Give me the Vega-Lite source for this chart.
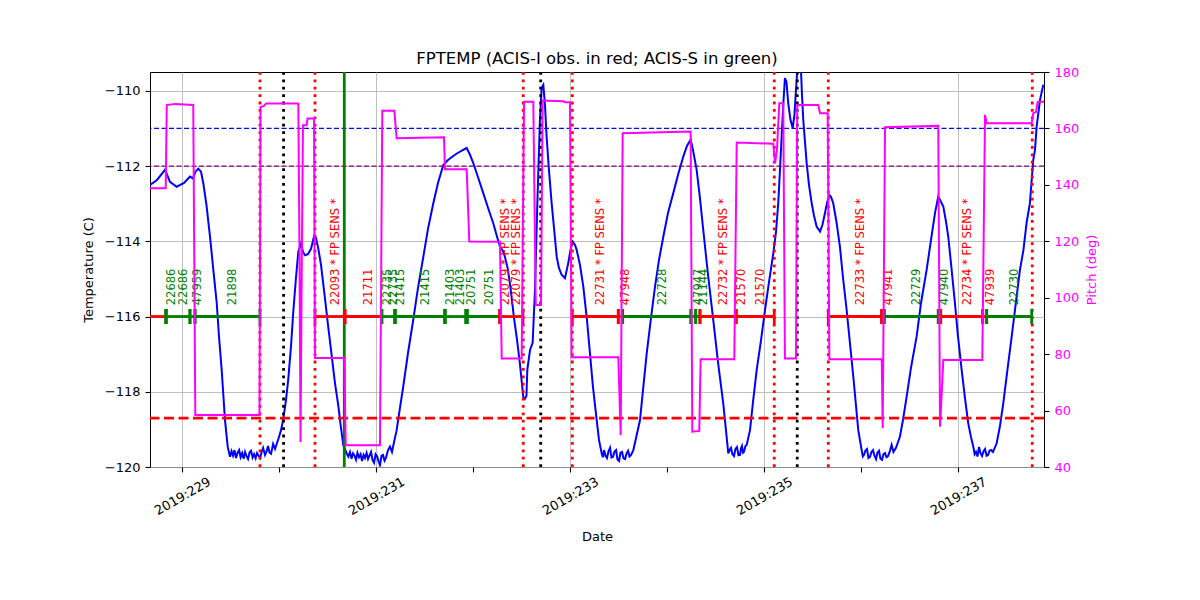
{
  "$schema": "https://vega.github.io/schema/vega-lite/v6.json",
  "width": 894,
  "height": 395,
  "autosize": {"type": "none"},
  "padding": {"left": 150, "top": 72, "right": 156, "bottom": 133},
  "background": "white",
  "config": {
    "font": "DejaVu Sans",
    "view": {"stroke": "black", "strokeWidth": 1},
    "axis": {
      "labelFont": "DejaVu Sans", "titleFont": "DejaVu Sans",
      "labelFontSize": 13, "titleFontSize": 13, "titleFontWeight": "normal",
      "labelColor": "black", "titleColor": "black", "tickColor": "black",
      "domain": false, "tickSize": 5, "tickWidth": 1.1,
      "gridColor": "#b0b0b0", "gridWidth": 0.8,
      "labelOverlap": false, "labelFlush": false, "labelBound": false
    },
    "title": {"font": "DejaVu Sans", "fontSize": 16.5, "fontWeight": "normal", "color": "black"}
  },
  "title": {"text": "FPTEMP (ACIS-I obs. in red; ACIS-S in green)", "anchor": "middle", "offset": -17, "baseline": "bottom"},
  "datasets": {
    "temp": [
      {"day": 228.667, "temp": -112.50}, {"day": 228.739, "temp": -112.37}, {"day": 228.822, "temp": -112.10},
      {"day": 228.873, "temp": -112.42}, {"day": 228.942, "temp": -112.55}, {"day": 229.018, "temp": -112.45},
      {"day": 229.079, "temp": -112.28}, {"day": 229.110, "temp": -112.33}, {"day": 229.136, "temp": -112.15},
      {"day": 229.165, "temp": -112.07}, {"day": 229.193, "temp": -112.15}, {"day": 229.216, "temp": -112.45},
      {"day": 229.249, "temp": -113.03}, {"day": 229.286, "temp": -113.88}, {"day": 229.320, "temp": -114.76},
      {"day": 229.355, "temp": -115.64}, {"day": 229.378, "temp": -116.52}, {"day": 229.406, "temp": -117.42},
      {"day": 229.440, "temp": -118.75}, {"day": 229.468, "temp": -119.46}, {"day": 229.492, "temp": -119.73},
      {"day": 229.508, "temp": -119.58}, {"day": 229.523, "temp": -119.70}, {"day": 229.538, "temp": -119.55},
      {"day": 229.554, "temp": -119.76}, {"day": 229.570, "temp": -119.62}, {"day": 229.586, "temp": -119.55},
      {"day": 229.601, "temp": -119.74}, {"day": 229.617, "temp": -119.63}, {"day": 229.632, "temp": -119.78},
      {"day": 229.647, "temp": -119.60}, {"day": 229.663, "temp": -119.72}, {"day": 229.678, "temp": -119.79},
      {"day": 229.694, "temp": -119.61}, {"day": 229.709, "temp": -119.57}, {"day": 229.725, "temp": -119.75},
      {"day": 229.740, "temp": -119.66}, {"day": 229.756, "temp": -119.77}, {"day": 229.771, "temp": -119.63},
      {"day": 229.787, "temp": -119.70}, {"day": 229.802, "temp": -119.76}, {"day": 229.818, "temp": -119.60},
      {"day": 229.833, "temp": -119.49}, {"day": 229.853, "temp": -119.68}, {"day": 229.870, "temp": -119.58},
      {"day": 229.884, "temp": -119.44}, {"day": 229.900, "temp": -119.62}, {"day": 229.915, "temp": -119.65},
      {"day": 229.936, "temp": -119.39}, {"day": 229.956, "temp": -119.52}, {"day": 229.991, "temp": -119.25},
      {"day": 230.018, "temp": -119.02}, {"day": 230.041, "temp": -118.72}, {"day": 230.069, "temp": -118.22},
      {"day": 230.093, "temp": -117.65}, {"day": 230.121, "temp": -116.78}, {"day": 230.144, "temp": -115.88},
      {"day": 230.172, "temp": -114.97}, {"day": 230.196, "temp": -114.28}, {"day": 230.224, "temp": -114.06},
      {"day": 230.244, "temp": -114.28}, {"day": 230.265, "temp": -114.37}, {"day": 230.296, "temp": -114.34},
      {"day": 230.327, "temp": -114.20}, {"day": 230.361, "temp": -113.84}, {"day": 230.378, "temp": -113.91},
      {"day": 230.402, "temp": -114.19}, {"day": 230.430, "temp": -114.63}, {"day": 230.471, "temp": -115.52},
      {"day": 230.502, "temp": -116.22}, {"day": 230.540, "temp": -117.03}, {"day": 230.574, "temp": -117.77},
      {"day": 230.608, "temp": -118.36}, {"day": 230.636, "temp": -118.96}, {"day": 230.660, "temp": -119.42},
      {"day": 230.695, "temp": -119.64}, {"day": 230.712, "temp": -119.72}, {"day": 230.729, "temp": -119.60},
      {"day": 230.745, "temp": -119.78}, {"day": 230.760, "temp": -119.64}, {"day": 230.776, "temp": -119.70},
      {"day": 230.791, "temp": -119.81}, {"day": 230.806, "temp": -119.62}, {"day": 230.822, "temp": -119.74},
      {"day": 230.838, "temp": -119.66}, {"day": 230.853, "temp": -119.84}, {"day": 230.869, "temp": -119.68},
      {"day": 230.884, "temp": -119.76}, {"day": 230.900, "temp": -119.63}, {"day": 230.915, "temp": -119.79},
      {"day": 230.930, "temp": -119.70}, {"day": 230.946, "temp": -119.60}, {"day": 230.962, "temp": -119.82},
      {"day": 230.977, "temp": -119.89}, {"day": 230.993, "temp": -119.66}, {"day": 231.008, "temp": -119.71},
      {"day": 231.023, "temp": -119.85}, {"day": 231.038, "temp": -119.95}, {"day": 231.054, "temp": -119.70},
      {"day": 231.069, "temp": -119.68}, {"day": 231.085, "temp": -119.83}, {"day": 231.100, "temp": -119.75},
      {"day": 231.121, "temp": -119.55}, {"day": 231.141, "temp": -119.46}, {"day": 231.162, "temp": -119.60},
      {"day": 231.188, "temp": -119.28}, {"day": 231.210, "temp": -119.02}, {"day": 231.244, "temp": -118.43},
      {"day": 231.278, "temp": -117.86}, {"day": 231.327, "temp": -116.97}, {"day": 231.381, "temp": -116.09},
      {"day": 231.430, "temp": -115.24}, {"day": 231.485, "temp": -114.41}, {"day": 231.533, "temp": -113.67},
      {"day": 231.588, "temp": -112.99}, {"day": 231.636, "temp": -112.45}, {"day": 231.691, "temp": -111.97},
      {"day": 231.739, "temp": -111.84}, {"day": 231.811, "temp": -111.70}, {"day": 231.873, "temp": -111.60},
      {"day": 231.932, "temp": -111.52}, {"day": 231.966, "temp": -111.70}, {"day": 232.000, "temp": -111.92},
      {"day": 232.048, "temp": -112.29}, {"day": 232.103, "temp": -112.72}, {"day": 232.152, "temp": -113.11},
      {"day": 232.206, "temp": -113.52}, {"day": 232.245, "temp": -113.88}, {"day": 232.275, "temp": -114.14},
      {"day": 232.309, "temp": -114.27}, {"day": 232.326, "temp": -114.41}, {"day": 232.358, "temp": -114.76},
      {"day": 232.389, "temp": -115.35}, {"day": 232.420, "temp": -116.04}, {"day": 232.451, "temp": -116.62},
      {"day": 232.480, "temp": -117.24}, {"day": 232.501, "temp": -117.77}, {"day": 232.515, "temp": -118.13},
      {"day": 232.532, "temp": -118.19}, {"day": 232.548, "temp": -118.11}, {"day": 232.557, "temp": -117.42},
      {"day": 232.585, "temp": -116.89}, {"day": 232.612, "temp": -116.70}, {"day": 232.636, "temp": -115.29},
      {"day": 232.660, "temp": -113.03}, {"day": 232.687, "temp": -110.77}, {"day": 232.705, "temp": -109.92},
      {"day": 232.722, "temp": -109.84}, {"day": 232.739, "temp": -110.37}, {"day": 232.756, "temp": -111.22},
      {"day": 232.780, "temp": -112.10}, {"day": 232.808, "temp": -112.99}, {"day": 232.832, "temp": -113.64},
      {"day": 232.860, "temp": -114.41}, {"day": 232.883, "temp": -114.71}, {"day": 232.911, "temp": -114.89},
      {"day": 232.945, "temp": -114.98}, {"day": 232.979, "temp": -114.58}, {"day": 233.002, "temp": -114.23},
      {"day": 233.025, "temp": -114.01}, {"day": 233.049, "temp": -114.10}, {"day": 233.066, "temp": -114.23},
      {"day": 233.100, "temp": -114.63}, {"day": 233.134, "temp": -115.20}, {"day": 233.172, "temp": -116.09},
      {"day": 233.203, "temp": -116.98}, {"day": 233.234, "temp": -117.87}, {"day": 233.272, "temp": -118.75},
      {"day": 233.296, "temp": -119.28}, {"day": 233.324, "temp": -119.64}, {"day": 233.336, "temp": -119.74},
      {"day": 233.348, "temp": -119.55}, {"day": 233.363, "temp": -119.70}, {"day": 233.379, "temp": -119.76},
      {"day": 233.394, "temp": -119.58}, {"day": 233.410, "temp": -119.49}, {"day": 233.425, "temp": -119.75},
      {"day": 233.441, "temp": -119.73}, {"day": 233.456, "temp": -119.59}, {"day": 233.472, "temp": -119.55},
      {"day": 233.487, "temp": -119.80}, {"day": 233.503, "temp": -119.84}, {"day": 233.518, "temp": -119.62},
      {"day": 233.534, "temp": -119.60}, {"day": 233.549, "temp": -119.77}, {"day": 233.565, "temp": -119.79},
      {"day": 233.580, "temp": -119.64}, {"day": 233.596, "temp": -119.57}, {"day": 233.611, "temp": -119.72},
      {"day": 233.627, "temp": -119.68}, {"day": 233.650, "temp": -119.55}, {"day": 233.678, "temp": -119.23},
      {"day": 233.719, "temp": -118.75}, {"day": 233.750, "temp": -117.95}, {"day": 233.788, "temp": -116.98},
      {"day": 233.832, "temp": -116.04}, {"day": 233.874, "temp": -115.20}, {"day": 233.915, "temp": -114.49},
      {"day": 233.959, "temp": -113.88}, {"day": 234.008, "temp": -113.24}, {"day": 234.062, "temp": -112.72},
      {"day": 234.111, "temp": -112.23}, {"day": 234.165, "temp": -111.75}, {"day": 234.204, "temp": -111.46},
      {"day": 234.241, "temp": -111.30}, {"day": 234.265, "temp": -111.57}, {"day": 234.303, "temp": -112.10},
      {"day": 234.337, "temp": -112.85}, {"day": 234.371, "temp": -113.70}, {"day": 234.420, "temp": -114.89},
      {"day": 234.474, "temp": -116.09}, {"day": 234.523, "temp": -117.21}, {"day": 234.577, "temp": -118.31},
      {"day": 234.605, "temp": -119.02}, {"day": 234.629, "temp": -119.64}, {"day": 234.643, "temp": -119.55},
      {"day": 234.657, "temp": -119.49}, {"day": 234.672, "temp": -119.66}, {"day": 234.688, "temp": -119.71},
      {"day": 234.703, "temp": -119.52}, {"day": 234.719, "temp": -119.47}, {"day": 234.734, "temp": -119.69},
      {"day": 234.750, "temp": -119.68}, {"day": 234.760, "temp": -119.50}, {"day": 234.770, "temp": -119.44},
      {"day": 234.780, "temp": -119.62}, {"day": 234.791, "temp": -119.60}, {"day": 234.805, "temp": -119.45},
      {"day": 234.819, "temp": -119.41}, {"day": 234.853, "temp": -119.02}, {"day": 234.884, "temp": -118.27},
      {"day": 234.922, "temp": -117.42}, {"day": 234.967, "temp": -116.62}, {"day": 235.008, "temp": -115.82},
      {"day": 235.049, "temp": -115.08}, {"day": 235.093, "temp": -114.32}, {"day": 235.121, "temp": -113.75},
      {"day": 235.144, "temp": -112.99}, {"day": 235.162, "temp": -112.10}, {"day": 235.179, "temp": -111.22},
      {"day": 235.196, "temp": -110.37}, {"day": 235.213, "temp": -109.66}, {"day": 235.229, "temp": -109.76},
      {"day": 235.247, "temp": -110.33}, {"day": 235.270, "temp": -110.77}, {"day": 235.293, "temp": -110.99},
      {"day": 235.311, "temp": -110.64}, {"day": 235.327, "temp": -109.97}, {"day": 235.340, "temp": -109.49},
      {"day": 235.353, "temp": -109.18}, {"day": 235.375, "temp": -109.23}, {"day": 235.389, "temp": -110.11},
      {"day": 235.402, "temp": -110.77}, {"day": 235.437, "temp": -111.92}, {"day": 235.461, "temp": -112.50},
      {"day": 235.489, "temp": -112.99}, {"day": 235.513, "temp": -113.32}, {"day": 235.540, "temp": -113.61},
      {"day": 235.575, "temp": -113.74}, {"day": 235.600, "temp": -113.56}, {"day": 235.626, "temp": -113.25},
      {"day": 235.647, "temp": -112.98}, {"day": 235.670, "temp": -112.77}, {"day": 235.688, "temp": -112.82},
      {"day": 235.711, "temp": -112.99}, {"day": 235.744, "temp": -113.48}, {"day": 235.780, "temp": -114.14},
      {"day": 235.811, "temp": -114.95}, {"day": 235.849, "temp": -115.82}, {"day": 235.883, "temp": -116.70},
      {"day": 235.918, "temp": -117.60}, {"day": 235.945, "temp": -118.35}, {"day": 235.969, "temp": -119.02},
      {"day": 236.004, "temp": -119.55}, {"day": 236.016, "temp": -119.72}, {"day": 236.028, "temp": -119.68},
      {"day": 236.043, "temp": -119.56}, {"day": 236.059, "temp": -119.52}, {"day": 236.074, "temp": -119.76},
      {"day": 236.090, "temp": -119.73}, {"day": 236.105, "temp": -119.60}, {"day": 236.121, "temp": -119.55},
      {"day": 236.136, "temp": -119.70}, {"day": 236.152, "temp": -119.79}, {"day": 236.167, "temp": -119.62},
      {"day": 236.183, "temp": -119.57}, {"day": 236.198, "temp": -119.78}, {"day": 236.214, "temp": -119.81},
      {"day": 236.229, "temp": -119.66}, {"day": 236.245, "temp": -119.63}, {"day": 236.260, "temp": -119.74},
      {"day": 236.276, "temp": -119.71}, {"day": 236.296, "temp": -119.57}, {"day": 236.313, "temp": -119.41},
      {"day": 236.332, "temp": -119.60}, {"day": 236.358, "temp": -119.49}, {"day": 236.399, "temp": -119.19},
      {"day": 236.430, "temp": -118.75}, {"day": 236.468, "temp": -118.13}, {"day": 236.512, "temp": -117.37},
      {"day": 236.571, "temp": -116.53}, {"day": 236.616, "temp": -115.64}, {"day": 236.674, "temp": -114.76},
      {"day": 236.719, "temp": -113.96}, {"day": 236.760, "temp": -113.25}, {"day": 236.794, "temp": -112.81},
      {"day": 236.812, "temp": -112.90}, {"day": 236.846, "temp": -113.08}, {"day": 236.874, "temp": -113.48},
      {"day": 236.897, "temp": -113.88}, {"day": 236.930, "temp": -114.71}, {"day": 236.966, "temp": -115.65},
      {"day": 236.997, "temp": -116.52}, {"day": 237.035, "temp": -117.42}, {"day": 237.069, "temp": -118.16},
      {"day": 237.103, "temp": -118.84}, {"day": 237.131, "temp": -119.20}, {"day": 237.155, "temp": -119.46},
      {"day": 237.169, "temp": -119.66}, {"day": 237.183, "temp": -119.60}, {"day": 237.198, "temp": -119.72},
      {"day": 237.214, "temp": -119.47}, {"day": 237.230, "temp": -119.64}, {"day": 237.245, "temp": -119.71},
      {"day": 237.261, "temp": -119.58}, {"day": 237.276, "temp": -119.52}, {"day": 237.292, "temp": -119.70},
      {"day": 237.307, "temp": -119.68}, {"day": 237.322, "temp": -119.57}, {"day": 237.338, "temp": -119.55},
      {"day": 237.358, "temp": -119.60}, {"day": 237.396, "temp": -119.37}, {"day": 237.430, "temp": -118.91},
      {"day": 237.464, "temp": -118.31}, {"day": 237.507, "temp": -117.42}, {"day": 237.551, "temp": -116.53},
      {"day": 237.595, "temp": -115.61}, {"day": 237.636, "temp": -114.76}, {"day": 237.672, "temp": -114.23},
      {"day": 237.705, "temp": -113.50}, {"day": 237.739, "temp": -112.98}, {"day": 237.773, "temp": -111.84},
      {"day": 237.791, "temp": -111.57}, {"day": 237.808, "temp": -110.96}, {"day": 237.843, "temp": -110.24},
      {"day": 237.877, "temp": -109.84}
    ],
    "pitch": [
      {"day": 228.667, "pitch": 138.8}, {"day": 228.829, "pitch": 138.8}, {"day": 228.840, "pitch": 168.3},
      {"day": 228.925, "pitch": 168.7}, {"day": 229.113, "pitch": 168.3}, {"day": 229.134, "pitch": 58.4},
      {"day": 229.796, "pitch": 58.4}, {"day": 229.806, "pitch": 167.6}, {"day": 229.842, "pitch": 168.0},
      {"day": 229.863, "pitch": 168.8}, {"day": 230.196, "pitch": 168.8}, {"day": 230.208, "pitch": 116.9},
      {"day": 230.219, "pitch": 48.9}, {"day": 230.229, "pitch": 99.2}, {"day": 230.244, "pitch": 161.1},
      {"day": 230.282, "pitch": 161.1}, {"day": 230.291, "pitch": 163.5}, {"day": 230.358, "pitch": 163.5},
      {"day": 230.368, "pitch": 78.6}, {"day": 230.670, "pitch": 78.6}, {"day": 230.685, "pitch": 47.7},
      {"day": 231.038, "pitch": 47.7}, {"day": 231.062, "pitch": 166.3}, {"day": 231.186, "pitch": 166.3},
      {"day": 231.210, "pitch": 156.5}, {"day": 231.698, "pitch": 156.9}, {"day": 231.708, "pitch": 145.5},
      {"day": 231.932, "pitch": 145.5}, {"day": 231.959, "pitch": 119.9}, {"day": 232.275, "pitch": 119.8},
      {"day": 232.293, "pitch": 78.5}, {"day": 232.499, "pitch": 78.5}, {"day": 232.523, "pitch": 169.5},
      {"day": 232.619, "pitch": 169.5}, {"day": 232.644, "pitch": 97.4}, {"day": 232.698, "pitch": 97.4},
      {"day": 232.715, "pitch": 169.9}, {"day": 232.928, "pitch": 169.6}, {"day": 232.946, "pitch": 169.3},
      {"day": 232.997, "pitch": 169.3}, {"day": 233.014, "pitch": 78.9}, {"day": 233.495, "pitch": 78.9},
      {"day": 233.520, "pitch": 51.3}, {"day": 233.540, "pitch": 158.3}, {"day": 234.241, "pitch": 158.9},
      {"day": 234.258, "pitch": 52.5}, {"day": 234.330, "pitch": 52.8}, {"day": 234.344, "pitch": 78.2},
      {"day": 234.691, "pitch": 78.2}, {"day": 234.716, "pitch": 155.0}, {"day": 235.093, "pitch": 154.6},
      {"day": 235.111, "pitch": 147.7}, {"day": 235.131, "pitch": 152.4}, {"day": 235.155, "pitch": 168.9},
      {"day": 235.196, "pitch": 168.9}, {"day": 235.213, "pitch": 78.5}, {"day": 235.327, "pitch": 78.5},
      {"day": 235.340, "pitch": 168.3}, {"day": 235.557, "pitch": 168.3}, {"day": 235.575, "pitch": 165.4},
      {"day": 235.654, "pitch": 165.4}, {"day": 235.671, "pitch": 78.2}, {"day": 236.211, "pitch": 78.2},
      {"day": 236.221, "pitch": 53.7}, {"day": 236.245, "pitch": 160.4}, {"day": 236.794, "pitch": 160.9},
      {"day": 236.812, "pitch": 54.3}, {"day": 236.846, "pitch": 77.9}, {"day": 237.248, "pitch": 77.9},
      {"day": 237.276, "pitch": 164.8}, {"day": 237.293, "pitch": 161.8}, {"day": 237.757, "pitch": 161.8},
      {"day": 237.773, "pitch": 165.4}, {"day": 237.801, "pitch": 165.8}, {"day": 237.819, "pitch": 169.5},
      {"day": 237.884, "pitch": 169.5}
    ],
    "obs": [
      {"start": 228.565, "stop": 228.832, "inst": "I", "obsid": ""},
      {"start": 228.832, "stop": 228.832, "inst": "S", "obsid": "22686"},
      {"start": 228.832, "stop": 229.079, "inst": "S", "obsid": "22686"},
      {"start": 229.079, "stop": 229.131, "inst": "S", "obsid": "47959"},
      {"start": 229.131, "stop": 229.801, "inst": "S", "obsid": "21898"},
      {"start": 230.368, "stop": 230.677, "inst": "I", "obsid": "22093 * FP SENS *"},
      {"start": 230.677, "stop": 231.056, "inst": "I", "obsid": "21711"},
      {"start": 231.056, "stop": 231.056, "inst": "S", "obsid": "22735"},
      {"start": 231.056, "stop": 231.193, "inst": "S", "obsid": "22735"},
      {"start": 231.193, "stop": 231.193, "inst": "S", "obsid": "21415"},
      {"start": 231.193, "stop": 231.708, "inst": "S", "obsid": "21415"},
      {"start": 231.708, "stop": 231.708, "inst": "S", "obsid": "21403"},
      {"start": 231.708, "stop": 231.925, "inst": "S", "obsid": "21403"},
      {"start": 231.925, "stop": 231.925, "inst": "S", "obsid": "20751"},
      {"start": 231.940, "stop": 232.275, "inst": "S", "obsid": "20751"},
      {"start": 232.275, "stop": 232.275, "inst": "I", "obsid": "22079 * FP SENS *"},
      {"start": 232.275, "stop": 232.512, "inst": "I", "obsid": "22079 * FP SENS *"},
      {"start": 233.021, "stop": 233.495, "inst": "I", "obsid": "22731 * FP SENS *"},
      {"start": 233.495, "stop": 233.540, "inst": "I", "obsid": "47948"},
      {"start": 233.540, "stop": 234.244, "inst": "S", "obsid": "22728"},
      {"start": 234.244, "stop": 234.293, "inst": "S", "obsid": "47947"},
      {"start": 234.293, "stop": 234.337, "inst": "S", "obsid": "21144"},
      {"start": 234.337, "stop": 234.708, "inst": "I", "obsid": "22732 * FP SENS *"},
      {"start": 234.708, "stop": 234.708, "inst": "I", "obsid": "21570"},
      {"start": 234.708, "stop": 235.103, "inst": "I", "obsid": "21570"},
      {"start": 235.660, "stop": 236.210, "inst": "I", "obsid": "22733 * FP SENS *"},
      {"start": 236.210, "stop": 236.237, "inst": "I", "obsid": "47941"},
      {"start": 236.237, "stop": 236.794, "inst": "S", "obsid": "22729"},
      {"start": 236.794, "stop": 236.819, "inst": "S", "obsid": "47940"},
      {"start": 236.819, "stop": 237.252, "inst": "I", "obsid": "22734 * FP SENS *"},
      {"start": 237.252, "stop": 237.293, "inst": "I", "obsid": "47939"},
      {"start": 237.293, "stop": 237.757, "inst": "S", "obsid": "22730"}
    ],
    "events": [
      {"day": 229.801, "kind": "radzone"}, {"day": 230.368, "kind": "radzone"},
      {"day": 232.515, "kind": "radzone"}, {"day": 233.021, "kind": "radzone"},
      {"day": 235.103, "kind": "radzone"}, {"day": 235.660, "kind": "radzone"},
      {"day": 237.763, "kind": "radzone"},
      {"day": 230.044, "kind": "perigee"}, {"day": 232.695, "kind": "perigee"},
      {"day": 235.340, "kind": "perigee"},
      {"day": 230.670, "kind": "now"}
    ],
    "limits": [
      {"name": "planning", "temp": -118.7},
      {"name": "acis_s", "temp": -111.0},
      {"name": "acis_i", "temp": -112.0}
    ]
  },
  "layer": [
    {
      "layer": [
        {
          "data": {"name": "temp"},
          "mark": {"type": "line", "color": "#0000ff", "strokeWidth": 2, "clip": true},
          "encoding": {
            "x": {
              "field": "day", "type": "quantitative",
              "scale": {"domain": [228.667, 237.884], "nice": false, "zero": false},
              "axis": {
                "title": "Date",
                "values": [229, 230, 231, 232, 233, 234, 235, 236, 237],
                "labelExpr": "datum.value % 2 == 1 ? '2019:' + datum.value : ''",
                "labelAngle": -30, "labelAlign": "center", "labelBaseline": "middle", "labelPadding": 24,
                "gridColor": {"condition": {"test": "datum.value % 2 == 1", "value": "#b0b0b0"}, "value": "transparent"},
                "titleX": 447, "titleY": 69, "titleBaseline": "middle"
              }
            },
            "y": {
              "field": "temp", "type": "quantitative",
              "scale": {"domain": [-120, -109.5], "nice": false, "zero": false},
              "axis": {
                "title": "Temperature (C)",
                "values": [-120, -118, -116, -114, -112, -110],
                "format": "d", "labelPadding": 5,
                "titleX": -61.5, "titleY": 197.5, "titleBaseline": "middle"
              }
            }
          }
        },
        {
          "data": {"name": "limits"},
          "transform": [{"filter": "datum.name == 'planning'"}],
          "mark": {"type": "rule", "color": "#ff0000", "strokeWidth": 2.8, "strokeDash": [10, 4.5]},
          "encoding": {
            "y": {"field": "temp", "type": "quantitative", "scale": {"domain": [-120, -109.5], "nice": false, "zero": false}}
          }
        },
        {
          "data": {"name": "limits"},
          "transform": [{"filter": "datum.name == 'acis_s'"}],
          "mark": {"type": "rule", "color": "#0000ff", "strokeWidth": 1.2, "strokeDash": [5, 2.5]},
          "encoding": {
            "y": {"field": "temp", "type": "quantitative", "scale": {"domain": [-120, -109.5], "nice": false, "zero": false}}
          }
        },
        {
          "data": {"name": "limits"},
          "transform": [{"filter": "datum.name == 'acis_i'"}],
          "mark": {"type": "rule", "color": "#800080", "strokeWidth": 1.2, "strokeDash": [5, 2.5]},
          "encoding": {
            "y": {"field": "temp", "type": "quantitative", "scale": {"domain": [-120, -109.5], "nice": false, "zero": false}}
          }
        },
        {
          "data": {"name": "events"},
          "transform": [{"filter": "datum.kind == 'radzone'"}],
          "mark": {"type": "rule", "color": "#ff0000", "strokeWidth": 2.8, "strokeDash": [2.8, 4.6]},
          "encoding": {
            "x": {"field": "day", "type": "quantitative", "scale": {"domain": [228.667, 237.884], "nice": false, "zero": false}}
          }
        },
        {
          "data": {"name": "events"},
          "transform": [{"filter": "datum.kind == 'perigee'"}],
          "mark": {"type": "rule", "color": "#000000", "strokeWidth": 2.8, "strokeDash": [2.8, 4.6]},
          "encoding": {
            "x": {"field": "day", "type": "quantitative", "scale": {"domain": [228.667, 237.884], "nice": false, "zero": false}}
          }
        },
        {
          "data": {"name": "events"},
          "transform": [{"filter": "datum.kind == 'now'"}],
          "mark": {"type": "rule", "color": "#008000", "strokeWidth": 2.8},
          "encoding": {
            "x": {"field": "day", "type": "quantitative", "scale": {"domain": [228.667, 237.884], "nice": false, "zero": false}}
          }
        },
        {
          "data": {"name": "obs"},
          "mark": {"type": "rule", "strokeWidth": 2.8, "clip": true},
          "encoding": {
            "x": {"field": "start", "type": "quantitative", "scale": {"domain": [228.667, 237.884], "nice": false, "zero": false}},
            "x2": {"field": "stop"},
            "y": {"datum": -116, "type": "quantitative", "scale": {"domain": [-120, -109.5], "nice": false, "zero": false}},
            "color": {"condition": {"test": "datum.inst == 'I'", "value": "#ff0000"}, "value": "#008000"}
          }
        },
        {
          "data": {"name": "obs"},
          "transform": [{"fold": ["start", "stop"], "as": ["edge", "t"]}],
          "mark": {"type": "tick", "orient": "vertical", "size": 15, "thickness": 2.8, "opacity": 1, "clip": true},
          "encoding": {
            "x": {"field": "t", "type": "quantitative", "scale": {"domain": [228.667, 237.884], "nice": false, "zero": false}},
            "y": {"datum": -116, "type": "quantitative", "scale": {"domain": [-120, -109.5], "nice": false, "zero": false}},
            "color": {"condition": {"test": "datum.inst == 'I'", "value": "#ff0000"}, "value": "#008000"}
          }
        },
        {
          "data": {"name": "obs"},
          "transform": [{"calculate": "(datum.start + datum.stop) / 2", "as": "mid"}],
          "mark": {"type": "text", "angle": 270, "align": "left", "baseline": "top", "font": "DejaVu Sans", "fontSize": 11.5},
          "encoding": {
            "x": {"field": "mid", "type": "quantitative", "scale": {"domain": [228.667, 237.884], "nice": false, "zero": false}},
            "y": {"datum": -115.7, "type": "quantitative", "scale": {"domain": [-120, -109.5], "nice": false, "zero": false}},
            "text": {"field": "obsid"},
            "color": {"condition": {"test": "datum.inst == 'I'", "value": "#ff0000"}, "value": "#008000"}
          }
        }
      ]
    },
    {
      "data": {"name": "pitch"},
      "mark": {"type": "line", "color": "#ff00ff", "strokeWidth": 2, "clip": true},
      "encoding": {
        "x": {"field": "day", "type": "quantitative", "scale": {"domain": [228.667, 237.884], "nice": false, "zero": false}},
        "y": {
          "field": "pitch", "type": "quantitative",
          "scale": {"domain": [40, 180], "nice": false, "zero": false},
          "axis": {
            "orient": "right", "title": "Pitch (deg)", "grid": false,
            "values": [40, 60, 80, 100, 120, 140, 160, 180],
            "labelColor": "#ff00ff", "titleColor": "#ff00ff", "labelPadding": 5,
            "titleAngle": 270, "titleX": 47, "titleY": 197.5, "titleBaseline": "middle"
          }
        }
      }
    }
  ],
  "resolve": {"scale": {"y": "independent"}, "axis": {"y": "independent"}}
}
